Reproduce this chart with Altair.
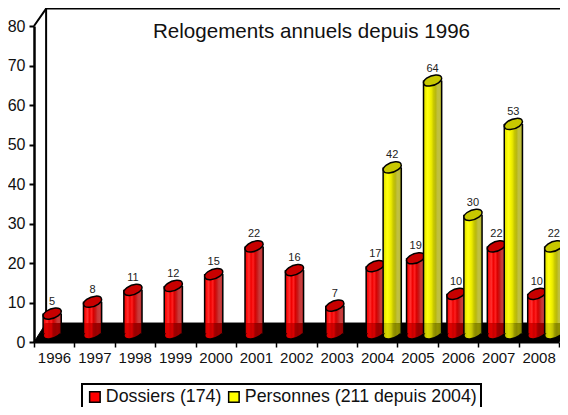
import altair as alt
import pandas as pd

FONT = "Liberation Sans"
years = ["1996","1997","1998","1999","2000","2001","2002","2003","2004","2005","2006","2007","2008"]
dossiers = [5, 8, 11, 12, 15, 22, 16, 7, 17, 19, 10, 22, 10]
personnes = [None]*8 + [42, 64, 30, 53, 22]
series_names = ["Dossiers (174)", "Personnes (211 depuis 2004)"]
legend_colors = ["#ff0000", "#ffff00"]

DEPTH_X, DEPTH_Y = 0.30, 4.8      # floor depth in data units
MID_Y = 2.2                       # cylinders stand mid-depth
HALF = 0.225                      # half width of a cylinder, in categories
ELL = "M-0.94,0.34 A1,0.5 -20 1 1 0.94,-0.34 A1,0.5 -20 1 1 -0.94,0.34 Z"
SIZE = 354

xs = alt.Scale(domain=[0, 13], nice=False, zero=False)
ys = alt.Scale(domain=[0, 80], nice=False)

x_axis = alt.Axis(
    values=list(range(14)), labelExpr="['" + "','".join(years) + "'][datum.value] || ''",
    labelOffset=20, labelFontSize=15, labelFont=FONT, labelColor="#111", labelPadding=3,
    labelOverlap=False, labelFlush=False, grid=False, tickSize=5, tickWidth=1.5, tickColor="black",
    domainColor="black", domainWidth=2, title=None)
y_axis = alt.Axis(
    values=list(range(0, 90, 10)), labelFontSize=16, labelFont=FONT, labelColor="#111", labelPadding=4,
    grid=False, tickSize=5, tickWidth=2, tickColor="black", domainColor="black", domainWidth=2.5, title=None)

def frame(series, offset):
    rows = []
    for i, v in enumerate(series):
        if v is None:
            continue
        c = i + offset
        rows.append(dict(v=v, c=c, l=c-HALF, r=c+HALF, top=v+MID_Y, base=MID_Y,
                         floor=DEPTH_Y, label=str(v)))
    return pd.DataFrame(rows)

def grad(stops):
    n = len(stops) - 1
    return alt.Gradient(gradient="linear", x1=0, x2=1, y1=0, y2=0,
                        stops=[alt.GradientStop(offset=k/n, color=c) for k, c in enumerate(stops)])

X = lambda f: alt.X(f"{f}:Q", scale=xs, axis=x_axis)
Y = lambda f: alt.Y(f"{f}:Q", scale=ys, axis=y_axis)

def cylinder(df, light, dark, cap):
    d = alt.Chart(df)
    base = d.mark_point(shape=ELL, size=SIZE, filled=True, fill=grad(dark), stroke="black",
                        strokeWidth=1.5, opacity=1).encode(x=X("c"), y=Y("base"))
    low = d.mark_rect(fill=grad(dark)).encode(x=X("l"), x2="r:Q", y=Y("base"), y2="floor:Q")
    up = d.mark_rect(fill=grad(light)).encode(x=X("l"), x2="r:Q", y=Y("floor"), y2="top:Q")
    left = d.mark_rule(color="black", strokeWidth=1.5).encode(x=X("l"), y=Y("base"), y2="top:Q")
    right = d.mark_rule(color="black", strokeWidth=1.5).encode(x=X("r"), y=Y("base"), y2="top:Q")
    top = d.mark_point(shape=ELL, size=SIZE, filled=True, fill=cap, stroke="black",
                       strokeWidth=1.5, opacity=1).encode(x=X("c"), y=Y("top"))
    return [base, low, up, left, right, top]

red = frame(dossiers, 0.45)
yel = frame(personnes, 0.87)

red_light = ["#e80000","#ff1010","#ff3030","#f00000","#ff2020","#d80000","#c81818","#c83838","#c84040","#b82020"]
red_dark  = ["#b80000","#d80000","#e00000","#c80000","#d80000","#a00000","#980000","#a00000","#980000","#800000"]
yel_light = ["#d8d800","#f0f000","#ffff10","#f8f800","#e8e800","#c8c800","#b8b810","#c0c040","#c0c040","#a8a810"]
yel_dark  = ["#b0b000","#c8c800","#d8d800","#d0d000","#c0c000","#989800","#888800","#909000","#888800","#707000"]

floor = pd.DataFrame(dict(x=[0, DEPTH_X, 13, 13+DEPTH_X],
                          y=[0, DEPTH_Y, DEPTH_Y, DEPTH_Y],
                          y2=[0, 0, 0, DEPTH_Y]))
wall = pd.DataFrame(dict(x=[0, DEPTH_X, DEPTH_X, 13.5], y=[80, 84.4, 84.4, 84.4], o=[0, 1, 2, 3]))
back = pd.DataFrame(dict(x=[DEPTH_X], y=[DEPTH_Y], y2=[84.4]))
legend_df = pd.DataFrame(dict(s=series_names, x=[1, 2], y=[1, 1]))

floor_l = alt.Chart(floor).mark_area(color="black", stroke="black", strokeWidth=1).encode(
    x=X("x"), y=Y("y"), y2="y2:Q")
wall_l = alt.Chart(wall).mark_line(color="black", strokeWidth=2).encode(
    x=X("x"), y=Y("y"), order="o:Q")
back_l = alt.Chart(back).mark_rule(color="black", strokeWidth=2).encode(x=X("x"), y=Y("y"), y2="y2:Q")
legend_l = alt.Chart(legend_df).mark_square(opacity=0, size=10).encode(
    x=X("x"), y=Y("y"),
    color=alt.Color("s:N", scale=alt.Scale(domain=series_names, range=legend_colors),
                    sort=series_names,
                    legend=alt.Legend(orient="none", legendX=48, legendY=358, direction="horizontal",
                                      columns=2, title=None, symbolType="square", symbolSize=110,
                                      symbolOpacity=1, symbolStrokeColor="black", symbolStrokeWidth=1.5,
                                      labelFont=FONT, labelFontSize=17.8, labelColor="#111", labelLimit=400,
                                      labelOffset=2, columnPadding=3, padding=4, strokeColor="black",
                                      fillColor="white")))

def labels(df):
    return alt.Chart(df).mark_text(fontSize=11, font=FONT, color="#222", dy=-12).encode(
        x=X("c"), y=Y("top"), text="label:N")

chart = alt.layer(
    floor_l, wall_l, back_l, legend_l,
    *cylinder(red, red_light, red_dark, "#c80000"),
    *cylinder(yel, yel_light, yel_dark, "#c8c800"),
    labels(red), labels(yel),
).properties(
    width=525, height=316,
    title=alt.TitleParams("Relogements annuels depuis 1996", font=FONT, fontSize=20.6, fontWeight="normal",
                          color="#111", anchor="middle", dx=15, dy=42),
    autosize=alt.AutoSizeParams(type="none"),
    padding={"left": 26, "top": 18, "right": 1, "bottom": 65},
).configure_view(stroke=None).configure_legend(strokeWidth=2)

chart.save("out.html", embed_options={"renderer": "svg", "actions": False})
